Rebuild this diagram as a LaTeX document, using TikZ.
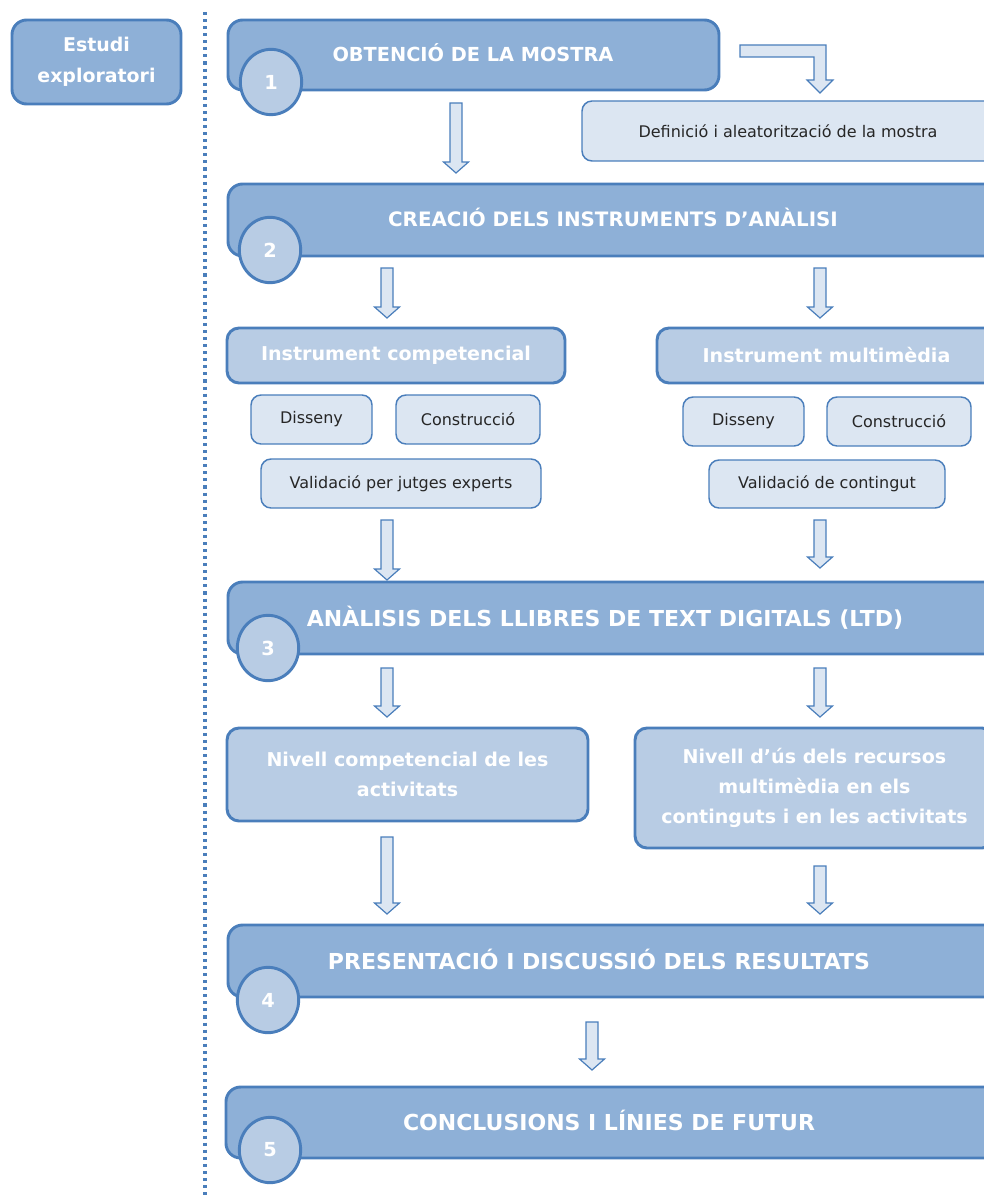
\documentclass[tikz,border=0pt]{standalone}
\usepackage{fontspec}
\setmainfont{DejaVu Sans}
\usetikzlibrary{shapes.geometric}

\definecolor{edge}{HTML}{4A7EBB}
\definecolor{midfill}{HTML}{8EB0D7}
\definecolor{softfill}{HTML}{B8CCE4}
\definecolor{palefill}{HTML}{DCE6F2}
\definecolor{inkgray}{HTML}{262626}

\tikzset{
  stagebox/.style={draw=edge, fill=midfill, line width=2.2pt, rounded corners=11pt, inner sep=0pt},
  sidebox/.style={stagebox, text=white, align=center,
    font=\bfseries\fontsize{14.2}{23.3}\selectfont},
  instrbox/.style={draw=edge, fill=softfill, line width=2.2pt, rounded corners=9pt, inner sep=0pt,
    text=white, align=center, font=\bfseries\fontsize{14.3}{22.3}\selectfont},
  taskbox/.style={draw=edge, fill=palefill, line width=1.1pt, rounded corners=7.5pt, inner sep=0pt,
    text=inkgray, font=\fontsize{12}{14}\selectfont},
  headtext/.style={text=white, anchor=base, inner sep=0pt, font=\bfseries\fontsize{14.5}{17}\selectfont},
  bighead/.style={headtext, font=\bfseries\fontsize{16.5}{19}\selectfont},
  numcirc/.style={ellipse, draw=edge, fill=softfill, line width=2.2pt, minimum width=46pt,
    minimum height=49pt, inner sep=0pt, text=white, font=\bfseries\fontsize{14.5}{17}\selectfont},
  blockarr/.style={draw=edge, fill=palefill, line width=0.9pt, line join=miter},
  dotline/.style={draw=edge, line width=2.4pt, dash pattern=on 2.3pt off 3pt}
}

% box node spanning x1,y1 to x2,y2: style, name, x1, y1, x2, y2, text
\newcommand\spanbox[7]{%
  \node[#1, minimum width={(#5-#3)*0.75}, minimum height={(#6-#4)*0.75}]
    (#2) at ({(#3+#5)/2},{(#4+#6)/2}) {#7};}

% vertical block arrow: centre x, top y, tip y
\newcommand\blockdown[3]{%
  \draw[blockarr] ({#1-6},#2) -- ({#1+6},#2) -- ({#1+6},{#3-11}) -- ({#1+12.5},{#3-11})
    -- (#1,#3) -- ({#1-12.5},{#3-11}) -- ({#1-6},{#3-11}) -- cycle;}

\begin{document}
\begin{tikzpicture}[x=0.75pt, y=-0.75pt]
\useasboundingbox (0,0) rectangle (984,1198);
\clip (0,0) rectangle (984,1198);

% left column label and separator
\spanbox{sidebox}{side}{12}{20}{181}{104}{Estudi\\exploratori}
\coordinate (dtop) at (205,12);
\coordinate (dbot) at (205,1204);
\draw[dotline] (dtop) -- (dbot);

% stage 1
\spanbox{stagebox}{s1}{228}{20}{719}{90}{}
\node[headtext] (s1t) at (473,62) {OBTENCIÓ DE LA MOSTRA};
\node[numcirc] (c1) at (271,82) {\raisebox{-2pt}{1}};
\draw[blockarr] (740,45) -- (826,45) -- (826,80) -- (833,80) -- (820,93) -- (807,80)
  -- (814,80) -- (814,57) -- (740,57) -- cycle;
\spanbox{taskbox}{sample}{582}{101}{994}{161}{Definició i aleatorització de la mostra}
\blockdown{456}{103}{173}

% stage 2
\spanbox{stagebox}{s2}{228}{184}{1000}{256}{}
\node[headtext, font=\bfseries\fontsize{14.9}{17}\selectfont] (s2t) at (613,227) {CREACIÓ DELS INSTRUMENTS D’ANÀLISI};
\node[numcirc] (c2) at (270,250) {\raisebox{-2pt}{2}};
\blockdown{387}{268}{318}
\blockdown{820}{268}{318}

% instruments
\spanbox{instrbox}{ic}{227}{328}{565}{383}{Instrument competencial}
\spanbox{taskbox}{icd}{251}{395}{372}{444}{Disseny}
\spanbox{taskbox}{icc}{396}{395}{540}{444}{Construcció}
\spanbox{taskbox}{icv}{261}{459}{541}{508}{Validació per jutges experts}

\spanbox{instrbox}{im}{657}{328}{996}{383}{Instrument multimèdia}
\spanbox{taskbox}{imd}{683}{397}{804}{446}{Disseny}
\spanbox{taskbox}{imc}{827}{397}{971}{446}{Construcció}
\spanbox{taskbox}{imv}{709}{460}{945}{508}{Validació de contingut}

\blockdown{387}{520}{580}
\blockdown{820}{520}{568}

% stage 3
\spanbox{stagebox}{s3}{228}{582}{1000}{654}{}
\node[bighead] (s3t) at (605,626) {ANÀLISIS DELS LLIBRES DE TEXT DIGITALS (LTD)};
\node[numcirc] (c3) at (268,648) {\raisebox{-2pt}{3}};
\blockdown{387}{668}{717}
\blockdown{820}{668}{717}

\spanbox{instrbox}{lc}{227}{728}{588}{821}{Nivell competencial de les\\activitats}
\spanbox{instrbox}{lm}{635}{728}{994}{848}{Nivell d’ús dels recursos\\multimèdia en els\\continguts i en les activitats}

\blockdown{387}{837}{914}
\blockdown{820}{866}{914}

% stage 4
\spanbox{stagebox}{s4}{228}{925}{1000}{997}{}
\node[bighead] (s4t) at (599,969) {PRESENTACIÓ I DISCUSSIÓ DELS RESULTATS};
\node[numcirc] (c4) at (268,1000) {\raisebox{-2pt}{4}};
\blockdown{592}{1022}{1070}

% stage 5
\spanbox{stagebox}{s5}{226}{1087}{1000}{1158}{}
\node[bighead] (s5t) at (609,1130) {CONCLUSIONS I LÍNIES DE FUTUR};
\node[numcirc] (c5) at (270,1150) {\raisebox{-2pt}{5}};
\end{tikzpicture}
\end{document}
